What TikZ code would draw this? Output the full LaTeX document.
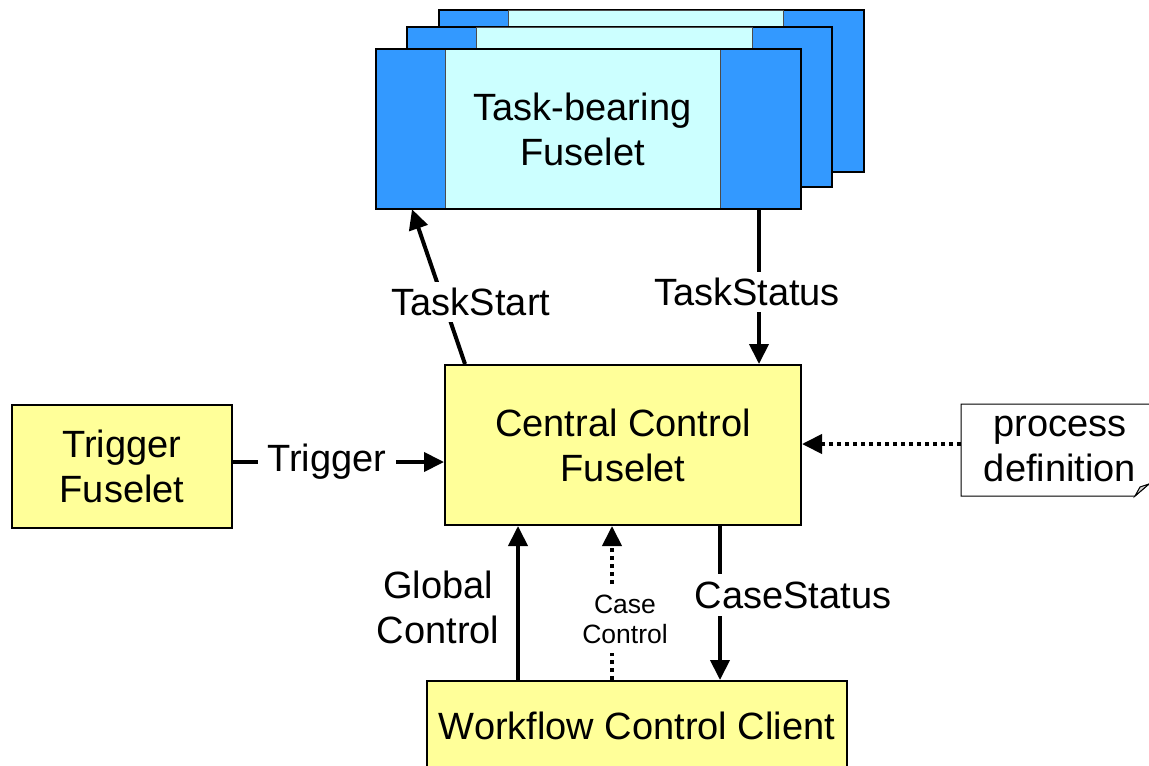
\documentclass[tikz,border=0pt]{standalone}
\usepackage{fontspec}
\setmainfont{Liberation Sans}
\usetikzlibrary{arrows.meta,calc}
\definecolor{cardblue}{HTML}{3399FF}
\definecolor{cardlight}{HTML}{CCFFFF}
\definecolor{boxyellow}{HTML}{FFFF99}
\tikzset{
  bigtext/.style={font=\fontsize{38}{45}\selectfont, align=center},
  smalltext/.style={font=\fontsize{26.5}{30}\selectfont, align=center},
  box/.style={draw=black, line width=2pt, fill=boxyellow, bigtext, inner sep=0pt},
  cardout/.style={draw=black, line width=2pt, fill=cardblue},
  cardin/.style={draw=black!70, line width=1pt, fill=cardlight},
  flow/.style={line width=4pt, -{Triangle[length=20pt,width=19pt]}},
  dotflow/.style={line width=4pt, dash pattern=on 4pt off 4pt, -{Triangle[length=20pt,width=19pt]}},
  lbl/.style={bigtext, fill=white, inner sep=6pt},
  slbl/.style={smalltext, fill=white, inner sep=6pt}
}
\begin{document}
\begin{tikzpicture}[x=1pt,y=-1pt]
\useasboundingbox (0,0) rectangle (1149,766);

% stack of task-bearing fuselets, back to front
\draw[cardout] (439,10) rectangle (864,172);
\draw[cardin] (508,10) rectangle (783,172);
\draw[cardout] (407,27) rectangle (832,187);
\draw[cardin] (476,27) rectangle (752,187);
\node[fill=cardblue, minimum width=425pt, minimum height=160pt, inner sep=0pt] (tb) at (588.5,129) {};
\node[cardin, minimum width=275pt, minimum height=160pt, inner sep=0pt, bigtext] (tbin) at (582.5,129) {Task-bearing\\Fuselet};
\draw[black, line width=2pt] (tb.north west) rectangle (tb.south east);

% main boxes
\node[box, minimum width=356pt, minimum height=160pt] (cc) at (623,445) {Central Control\\Fuselet};
\node[box, minimum width=220pt, minimum height=123pt] (tf) at (122,466.5) {Trigger\\Fuselet};
\node[box, minimum width=420pt, minimum height=90pt, anchor=north] (wcc) at (637,680) {Workflow Control Client};

% process definition note with folded corner
\draw[line width=1pt, fill=white] (961,404) -- (1160,404) -- (1160,484) -- (1149,484) -- (1135,496) -- (961,496) -- cycle;
\draw[line width=1pt, fill=black!15] (1135,496) -- (1140,487) -- (1149,484) -- cycle;
\node[bigtext, inner sep=0pt] (pd) at (1060,448.5) {process\\definition};

% TaskStart
\draw[flow] ([xshift=-158pt]cc.north) -- ([xshift=-176.5pt]tb.south);
\node[lbl] (ts) at (471,302) {TaskStart};
% TaskStatus
\draw[flow] ([xshift=170.5pt]tb.south) -- ([xshift=136pt]cc.north);
\node[lbl] (tst) at (747,292) {TaskStatus};
% Trigger
\draw[flow] (tf.east |- 0,462) -- (cc.west |- 0,462);
\node[lbl, inner sep=10pt] (trg) at (327,462) {Trigger};
% process definition feed
\draw[dotflow] (961,444) -- (cc.east |- 0,444);
% Global Control
\draw[flow] ([xshift=-119pt]wcc.north) -- ([xshift=-105pt]cc.south);
\node[bigtext] (gc) at (438,607) {Global\\Control};
% Case Control
\draw[dotflow] ([xshift=-25pt]wcc.north) -- ([xshift=-11pt]cc.south);
\node[slbl, inner sep=10pt] (csc) at (625,619) {Case\\Control};
% CaseStatus
\draw[flow] ([xshift=97pt]cc.south) -- ([xshift=83pt]wcc.north);
\node[lbl, inner sep=8pt] (cst) at (793,595) {CaseStatus};
\end{tikzpicture}
\end{document}
